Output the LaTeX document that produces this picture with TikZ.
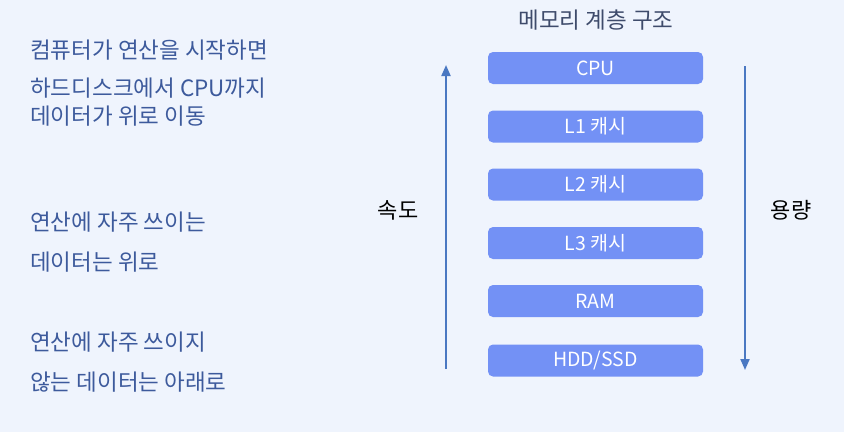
\documentclass[tikz,border=0pt]{standalone}
\usepackage{fontspec}
\setmainfont{Noto Sans CJK KR}
\usetikzlibrary{arrows.meta}
\definecolor{bgc}{HTML}{EFF4FD}
\definecolor{boxc}{HTML}{7391F5}
\definecolor{arrc}{HTML}{4A78C2}
\definecolor{leftc}{HTML}{3D5A9C}
\definecolor{titlec}{HTML}{3E4B6B}
\tikzset{
  membox/.style={fill=boxc, rounded corners=5pt, minimum width=215pt, minimum height=32pt, inner sep=0pt, text=white, font=\fontsize{19.5}{22}\selectfont},
  lefttext/.style={anchor=west, inner sep=0pt, text=leftc, font=\fontsize{22.5}{26}\selectfont},
  sidelabel/.style={inner sep=0pt, text=black, font=\fontsize{22}{26}\selectfont},
  bigarrow/.style={draw=arrc, line width=2pt, -{Triangle[length=11pt,width=9pt]}},
}
\begin{document}
\begin{tikzpicture}[x=1pt,y=-1pt]
\fill[bgc] (0,0) rectangle (844,432);
\useasboundingbox (0,0) rectangle (844,432);

\node[inner sep=0pt, text=titlec, font=\fontsize{22.5}{26}\selectfont] (title) at (596,20) {메모리 계층 구조};

\node[membox] (cpu) at (595.5,68) {CPU};
\node[membox] (l1) at (595.5,126.5) {L1 캐시};
\node[membox] (l2) at (595.5,184.5) {L2 캐시};
\node[membox] (l3) at (595.5,243) {L3 캐시};
\node[membox] (ram) at (595.5,301) {RAM};
\node[membox] (hdd) at (595.5,360.5) {HDD/SSD};

\coordinate (upbot) at (446,369);
\coordinate (uptop) at (446,65);
\coordinate (dntop) at (745,66);
\coordinate (dnbot) at (745,370);
\draw[bigarrow] (upbot) -- (uptop);
\draw[bigarrow] (dntop) -- (dnbot);

\node[sidelabel] (speed) at (398,210) {속도};
\node[sidelabel] (cap) at (791,210) {용량};

\node[lefttext] (t1) at (30,50) {컴퓨터가 연산을 시작하면};
\node[lefttext] (t2) at (30,88) {하드디스크에서 CPU까지};
\node[lefttext] (t3) at (30,116) {데이터가 위로 이동};
\node[lefttext] (t4) at (30,222) {연산에 자주 쓰이는};
\node[lefttext] (t5) at (30,262) {데이터는 위로};
\node[lefttext] (t6) at (30,342) {연산에 자주 쓰이지};
\node[lefttext] (t7) at (30,382) {않는 데이터는 아래로};
\end{tikzpicture}
\end{document}
